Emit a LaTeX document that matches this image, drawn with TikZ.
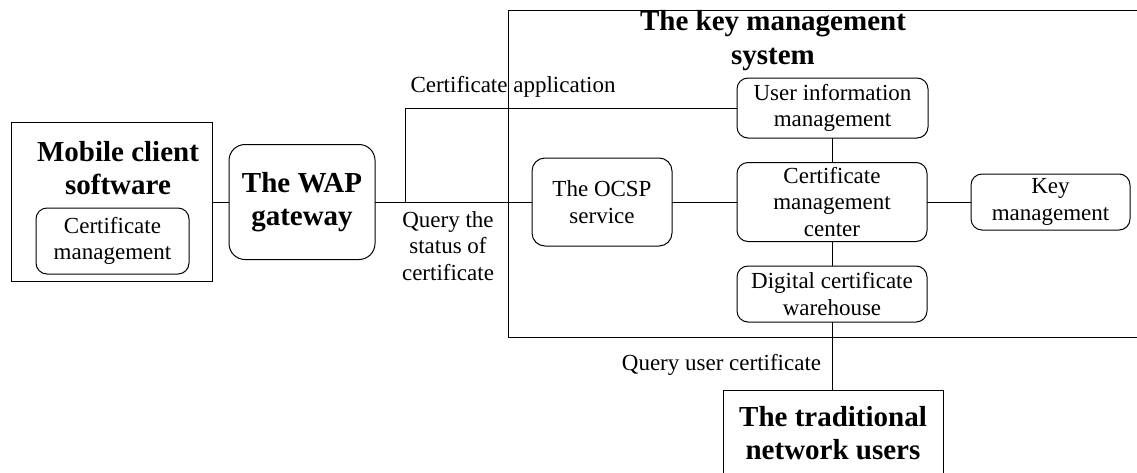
\documentclass[tikz,border=0pt]{standalone}
\usepackage{fontspec}
\setmainfont{Liberation Serif}
\tikzset{
  lbl/.style={font=\fontsize{23}{26.5}\selectfont, align=center, inner sep=0pt, outer sep=0pt},
  ttl/.style={font=\fontsize{29}{33.5}\selectfont\bfseries, align=center, inner sep=0pt, outer sep=0pt},
  frame/.style={draw, rectangle, inner sep=0pt, outer sep=0pt},
  rbox/.style={lbl, draw, rounded corners=11pt},
  link/.style={draw}
}
\begin{document}
\begin{tikzpicture}[x=1pt, y=-1pt, line width=1pt]
\useasboundingbox (0,0) rectangle (1137,472);
\clip (0,0) rectangle (1137,472);

% client side
\node[frame, minimum width=201pt, minimum height=159pt] (mob) at (111.5,202) {};
\node[ttl] (mobt) at (118,168) {Mobile client\\software};
\node[rbox, minimum width=153pt, minimum height=66pt] (mcm) at (112.5,241) {Certificate\\management};
\node[ttl, draw, rounded corners=16pt, minimum width=146pt, minimum height=115pt] (wap) at (302,202) {The WAP\\gateway};

% key management system frame (open to the right)
\node[frame, minimum width=650pt, minimum height=327pt] (ks) at (833,173.5) {};
\node[ttl] (kst) at (773,40.5) {The key management\\system};

% inner services
\node[rbox, rounded corners=13pt, minimum width=140pt, minimum height=88pt] (ocsp) at (602,202) {The OCSP\\service};
\node[rbox, minimum width=191pt, minimum height=60pt] (ui) at (832.5,108) {User information\\management};
\node[rbox, minimum width=190pt, minimum height=79pt] (cmc) at (832,202) {Certificate\\management\\center};
\node[rbox, minimum width=190pt, minimum height=56pt] (dw) at (832,294) {Digital certificate\\warehouse};
\node[rbox, minimum width=159pt, minimum height=56pt] (km) at (1050.5,202) {Key\\management};

% traditional users
\node[frame, minimum width=220pt, minimum height=110pt] (tu) at (833,445) {};
\node[ttl] (tut) at (833,433) {The traditional\\network users};

% connectors
\coordinate (j) at (405,202);
\draw[link] (mob.east) -- (wap.west);
\draw[link] (wap.east) -- (ocsp.west);
\draw[link] (j) |- (ui.west);
\draw[link] (ocsp.east) -- (cmc.west);
\draw[link] (cmc.east) -- (km.west);
\draw[link] (ui.south -| cmc.north) -- (cmc.north);
\draw[link] (cmc.south) -- (dw.north);
\draw[link] (dw.south) -- (dw.south |- tu.north);

% connector labels
\node[lbl] (lapp) at (513,87) {Certificate application};
\node[lbl] (lqs) at (448,246) {Query the\\status of\\certificate};
\node[lbl] (lqu) at (721.5,365) {Query user certificate};
\end{tikzpicture}
\end{document}
